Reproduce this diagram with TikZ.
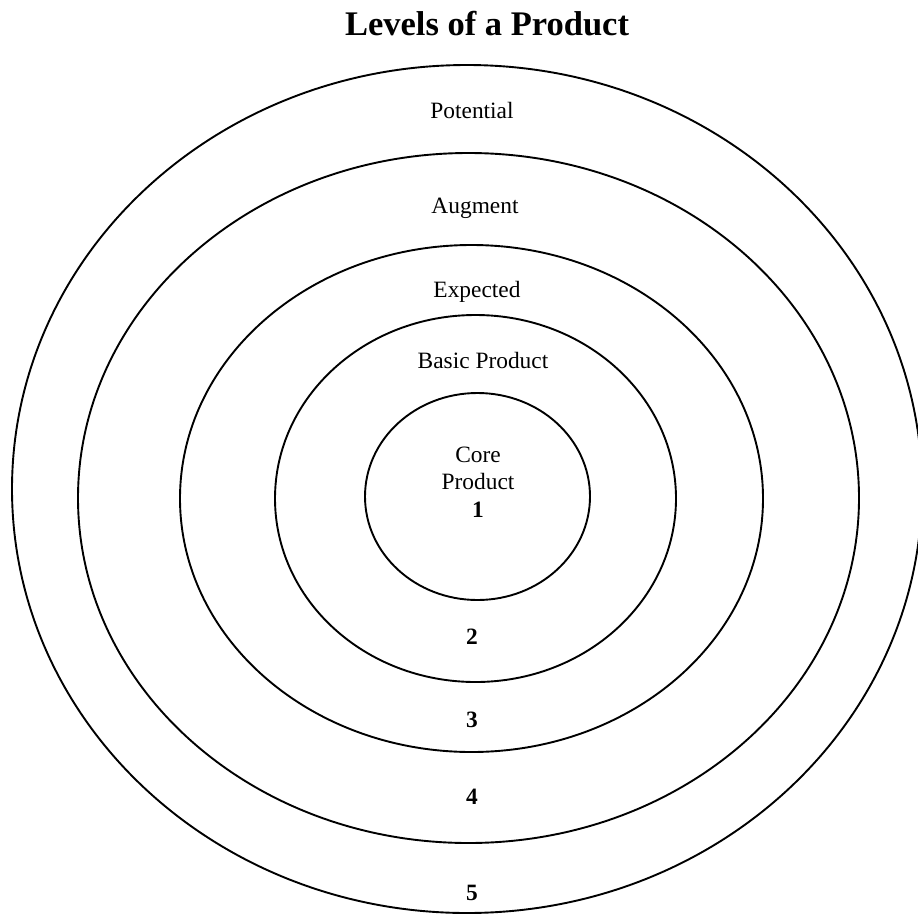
\documentclass[tikz,border=0pt]{standalone}
\usepackage{fontspec}
\setmainfont{Liberation Serif}
\usepackage{xcolor}
\usepackage{tikz}
\usetikzlibrary{positioning}
\definecolor{ink}{HTML}{000000}
\definecolor{paper}{HTML}{FFFFFF}
\tikzset{
  LevelRing/.style={
    draw=ink, line width=1.9pt
  },
  LevelText/.style={
    text=ink, inner sep=0pt, anchor=base,
    font=\fontsize{23.4}{27.5}\selectfont
  },
  LevelNum/.style={
    LevelText,
    font=\fontsize{23.4}{27.5}\selectfont\bfseries
  },
  Heading/.style={
    text=ink, inner sep=0pt, anchor=base,
    font=\fontsize{34.5}{40}\selectfont\bfseries
  }
}

\begin{document}
\begin{tikzpicture}[x=1pt, y=-1pt, line cap=round, line join=round]
  \useasboundingbox[fill=paper] (0,0) rectangle (918,916);

  % rings, outermost first
  \draw[LevelRing] (467,489) ellipse [x radius=455, y radius=424];
  \draw[LevelRing] (468.5,498) ellipse [x radius=390.5, y radius=345];
  \draw[LevelRing] (471.5,498.5) ellipse [x radius=291.5, y radius=253.5];
  \draw[LevelRing] (475.5,498.5) ellipse [x radius=200.5, y radius=183.5];
  \draw[LevelRing] (477.5,496.5) ellipse [x radius=112.5, y radius=103.5];

  \node[Heading] (title) at (487,35) {Levels of a Product};

  \node[LevelText] (potential) at (472,118) {Potential};
  \node[LevelText] (augment) at (475,213) {Augment};
  \node[LevelText] (expected) at (477,297) {Expected};
  \node[LevelText] (basic) at (483,368) {Basic Product};
  % base of a stacked node is its last line
  \node[LevelText, align=center] (core) at (478,517) {Core\\Product\\\textbf{1}};

  \node[LevelNum] (n2) at (472,644) {2};
  \node[LevelNum] (n3) at (472,727) {3};
  \node[LevelNum] (n4) at (472,804) {4};
  \node[LevelNum] (n5) at (472,900) {5};
\end{tikzpicture}
\end{document}
